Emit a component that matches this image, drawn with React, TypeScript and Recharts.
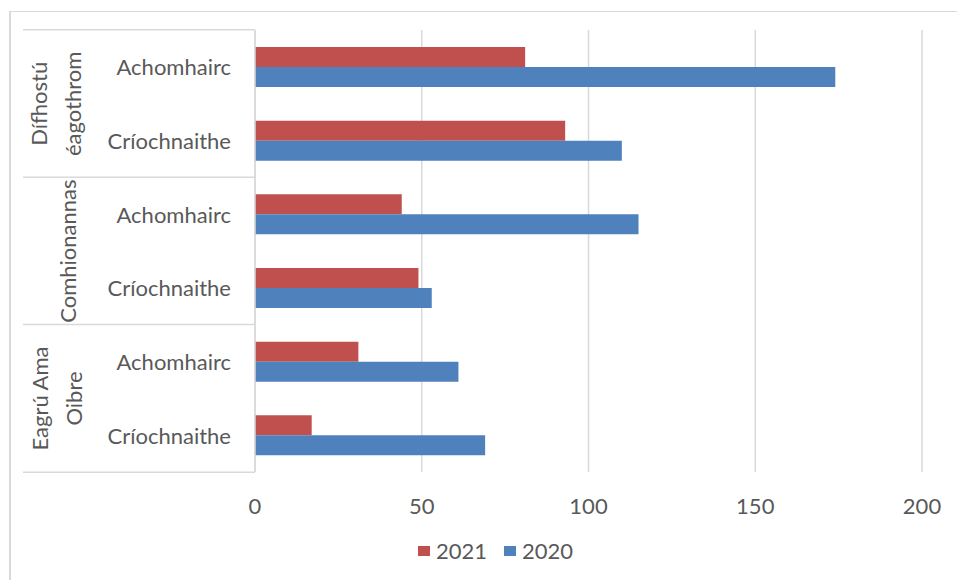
import React from "react";
import { BarChart, Bar, XAxis, YAxis, CartesianGrid, Legend } from "recharts";

// categories (top to bottom) and values
const groupNames = ["Dífhostú éagothrom", "Comhionannas", "Eagrú Ama Oibre"];
const groupLines = [["Dífhostú", "éagothrom"], ["Comhionannas"], ["Eagrú Ama", "Oibre"]];
const subCategories = ["Achomhairc", "Críochnaithe"];
const values2021 = [81, 93, 44, 49, 31, 17];
const values2020 = [174, 110, 115, 53, 61, 69];
const xTicks = [0, 50, 100, 150, 200];

const seriesNames = ["2021", "2020"];
const seriesColors = ["#C0504D", "#4F81BD"];

const data = values2021.map((v, i) => {
  const g = Math.floor(i / subCategories.length);
  const s = i % subCategories.length;
  return {
    key: `${groupNames[g]}|${subCategories[s]}`,
    group: g,
    sub: subCategories[s],
    "2021": v,
    "2020": values2020[i],
  };
});

const W = 957;
const H = 580;
const PLOT_TOP = 30;
const PLOT_BOTTOM = 474;
const PLOT_LEFT = 255;
const PLOT_RIGHT = 922;
const BAND = (PLOT_BOTTOM - PLOT_TOP) / data.length;

const FONT = "Lato, 'Open Sans', sans-serif";
const TEXT = "#595959";
const GRID = "#D9D9D9";
const FS = 22;

function CategoryTick(props: any) {
  const { y, payload, index } = props;
  const i = payload?.index ?? index;
  const row = data[i];
  if (!row) return null;
  const groupStart = i % subCategories.length === 0;
  const last = i === data.length - 1;
  const lines = groupLines[row.group];
  const xs = lines.length === 2 ? [39, 73] : [68];
  const gy = y + BAND / 2;
  return (
    <g>
      <text x={231} y={y} textAnchor="end" dominantBaseline="central" fill={TEXT} fontSize={FS} fontFamily={FONT}>
        {row.sub}
      </text>
      {groupStart && (
        <line x1={23} x2={PLOT_LEFT} y1={y - BAND / 2} y2={y - BAND / 2} stroke={GRID} strokeWidth={1.5} />
      )}
      {last && <line x1={23} x2={PLOT_LEFT} y1={y + BAND / 2} y2={y + BAND / 2} stroke={GRID} strokeWidth={1.5} />}
      {groupStart &&
        lines.map((t, k) => (
          <text
            key={k}
            x={xs[k]}
            y={gy}
            transform={`rotate(-90 ${xs[k]} ${gy})`}
            textAnchor="middle"
            dominantBaseline="central"
            fill={TEXT}
            fontSize={FS}
            fontFamily={FONT}
          >
            {t}
          </text>
        ))}
    </g>
  );
}

function ValueTick(props: any) {
  const { x, payload } = props;
  return (
    <text x={x} y={PLOT_BOTTOM + 31} textAnchor="middle" dominantBaseline="central" fill={TEXT} fontSize={FS} fontFamily={FONT}>
      {payload.value}
    </text>
  );
}

function LegendContent() {
  return (
    <div style={{ display: "flex", alignItems: "center", fontFamily: FONT, fontSize: FS, color: TEXT, lineHeight: "26px" }}>
      {seriesNames.map((n, i) => (
        <div key={n} style={{ display: "flex", alignItems: "center", marginRight: i === 0 ? 17 : 0 }}>
          <span style={{ display: "inline-block", width: 12, height: 10, background: seriesColors[i], marginRight: 6 }} />
          <span>{n}</span>
        </div>
      ))}
    </div>
  );
}

export default function App() {
  return (
    <div style={{ position: "absolute", left: 0, top: 0, width: W, height: H, background: "#fff", overflow: "hidden" }}>
      <div
        style={{
          position: "absolute",
          left: 9,
          top: 11,
          width: W,
          height: H,
          borderLeft: "2px solid #D9D9D9",
          borderTop: "1px solid #D9D9D9",
        }}
      />
      <BarChart
        width={W}
        height={H}
        data={data}
        layout="vertical"
        margin={{ top: PLOT_TOP, right: W - PLOT_RIGHT, bottom: 22, left: 0 }}
        barGap={0}
        style={{ position: "absolute", left: 0, top: 0 }}
      >
        <CartesianGrid horizontal={false} stroke={GRID} strokeWidth={1.5} />
        <XAxis
          type="number"
          domain={[0, 200]}
          ticks={xTicks}
          axisLine={false}
          tickLine={false}
          tick={<ValueTick />}
          height={60}
        />
        <YAxis
          type="category"
          dataKey="key"
          width={PLOT_LEFT}
          axisLine={{ stroke: GRID, strokeWidth: 1.5 }}
          tickLine={false}
          interval={0}
          tick={<CategoryTick />}
        />
        <Legend
          content={<LegendContent />}
          wrapperStyle={{ position: "absolute", left: 418, top: 538, width: "auto" }}
        />
        {seriesNames.map((n, i) => (
          <Bar key={n} dataKey={n} fill={seriesColors[i]} barSize={20} isAnimationActive={false} />
        ))}
      </BarChart>
    </div>
  );
}
